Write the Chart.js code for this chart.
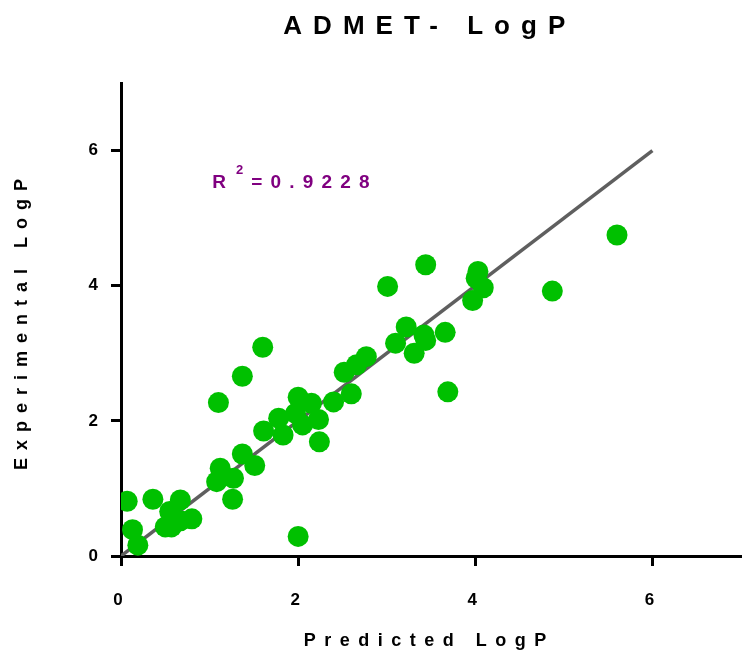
<!DOCTYPE html>
<html>
<head>
<meta charset="utf-8">
<script src="https://cdn.jsdelivr.net/npm/chart.js@4.4.1/dist/chart.umd.min.js"></script>
<style>
html,body{margin:0;padding:0;background:#fff;}
#wrap{width:742px;height:651px;}
</style>
</head>
<body>
<div id="wrap"><canvas id="c" width="742" height="651"></canvas></div>
<script>
// ---- text ----
const chartTitle = "ADMET- LogP";
const xAxisTitle = "Predicted LogP";
const yAxisTitle = "Experimental LogP";
const r2Main = "R";
const r2Sup = "2";
const r2Value = "=0.9228";

// ---- data ----
const predicted = [0.07, 0.13, 0.19, 0.36, 0.50, 0.57, 0.55, 0.67, 0.67, 0.80,
  1.08, 1.10, 1.12, 1.26, 1.27, 1.37, 1.37, 1.51, 1.60, 1.61,
  1.78, 1.83, 1.97, 2.00, 2.00, 2.05, 2.15, 2.23, 2.24, 2.40,
  2.52, 2.60, 2.66, 2.77, 3.01, 3.10, 3.22, 3.31, 3.42, 3.44, 3.44,
  3.66, 3.69, 3.97, 4.01, 4.03, 4.09, 4.87, 5.60];
const experimental = [0.81, 0.39, 0.16, 0.84, 0.43, 0.43, 0.66, 0.83, 0.52, 0.55,
  1.10, 2.27, 1.30, 0.84, 1.15, 1.51, 2.66, 1.34, 3.09, 1.85,
  2.04, 1.79, 2.11, 2.35, 0.29, 1.94, 2.26, 2.02, 1.69, 2.28,
  2.72, 2.40, 2.83, 2.95, 3.99, 3.15, 3.39, 3.00, 3.27, 3.19, 4.31,
  3.31, 2.43, 3.78, 4.11, 4.21, 3.97, 3.92, 4.75];
const fitX = [0, 6];
const fitY = [0, 6];
const xTicks = [0, 2, 4, 6];
const yTicks = [0, 2, 4, 6];
const xRange = [0, 7];
const yRange = [0, 7];
const r2Anchor = [1.03, 5.44];

// ---- styling ----
const FAMILY = "'Liberation Sans', Arial, Helvetica, sans-serif";
const GREEN = 'rgb(0,192,0)';
const PURPLE = '#800080';

function textWidth(ctx, text, spacing) {
  let w = 0;
  for (const ch of text) w += ctx.measureText(ch).width;
  return w + spacing * (text.length - 1);
}
function drawSpaced(ctx, text, x, y, font, spacing, align, rot, color) {
  ctx.save();
  ctx.font = font;
  ctx.fillStyle = color || '#000';
  ctx.textAlign = 'left';
  ctx.textBaseline = 'alphabetic';
  const hasLS = ('letterSpacing' in ctx);
  if (hasLS) ctx.letterSpacing = '0px';
  const w = textWidth(ctx, text, hasLS ? spacing : 0);
  if (hasLS) ctx.letterSpacing = spacing + 'px';
  ctx.translate(x, y);
  if (rot) ctx.rotate(rot);
  const dx = align === 'center' ? -w / 2 : 0;
  ctx.fillText(text, dx, 0);
  ctx.restore();
  return w;
}

const textPlugin = {
  id: 'textPlugin',
  afterDraw(chart) {
    const ctx = chart.ctx;
    const a = chart.chartArea;
    const xs = chart.scales.x, ys = chart.scales.y;
    // chart title
    drawSpaced(ctx, chartTitle, (a.left + a.right) / 2 - 6, 34, 'bold 26px ' + FAMILY, 11, 'center');
    // x axis title
    drawSpaced(ctx, xAxisTitle, (a.left + a.right) / 2 - 6, 646, 'bold 18px ' + FAMILY, 8.5, 'center');
    // y axis title
    drawSpaced(ctx, yAxisTitle, 27, (a.top + a.bottom) / 2 + 5, 'bold 18px ' + FAMILY, 8.0, 'center', -Math.PI / 2);
    // R^2 annotation
    const px = xs.getPixelForValue(r2Anchor[0]);
    const py = ys.getPixelForValue(r2Anchor[1]);
    const wR = drawSpaced(ctx, r2Main, px, py, 'bold 19px ' + FAMILY, 0, 'left', 0, PURPLE);
    drawSpaced(ctx, r2Sup, px + wR + 10, py - 14, 'bold 13px ' + FAMILY, 0, 'left', 0, PURPLE);
    drawSpaced(ctx, r2Value, px + 39, py, 'bold 19px ' + FAMILY, 8.2, 'left', 0, PURPLE);
  }
};

const scatterData = predicted.map((x, i) => ({ x: x, y: experimental[i] }));
const fitData = fitX.map((x, i) => ({ x: x, y: fitY[i] }));

new Chart(document.getElementById('c'), {
  type: 'scatter',
  data: {
    datasets: [
      {
        label: 'Compounds',
        data: scatterData,
        backgroundColor: GREEN,
        borderWidth: 0,
        pointRadius: 10.5,
        pointHoverRadius: 10.5,
        order: 0
      },
      {
        type: 'line',
        label: 'Fit',
        data: fitData,
        borderColor: '#5f5f5f',
        borderWidth: 3.5,
        pointRadius: 0,
        fill: false,
        order: 1
      }
    ]
  },
  options: {
    responsive: false,
    animation: false,
    devicePixelRatio: 1,
    layout: { autoPadding: false, padding: { top: 83, right: 1, bottom: 0, left: 0 } },
    plugins: {
      legend: { display: false },
      title: { display: false },
      tooltip: { enabled: false }
    },
    events: [],
    scales: {
      x: {
        type: 'linear',
        min: xRange[0], max: xRange[1],
        afterBuildTicks: s => { s.ticks = xTicks.map(v => ({ value: v })); },
        afterFit: s => { s.height = 95; s.paddingLeft = 0; s.paddingRight = 0; },
        grid: { display: true, drawOnChartArea: false, drawTicks: true, tickLength: 10, tickWidth: 3, tickColor: '#000' },
        border: { display: true, color: '#000', width: 3 },
        ticks: { color: '#000', font: { family: FAMILY, size: 17, weight: 'bold' }, padding: 24, maxRotation: 0, labelOffset: -3 }
      },
      y: {
        type: 'linear',
        min: yRange[0], max: yRange[1],
        afterBuildTicks: s => { s.ticks = yTicks.map(v => ({ value: v })); },
        afterFit: s => { s.width = 121; s.paddingTop = 0; s.paddingBottom = 0; },
        grid: { display: true, drawOnChartArea: false, drawTicks: true, tickLength: 10, tickWidth: 3, tickColor: '#000' },
        border: { display: true, color: '#000', width: 3 },
        ticks: { color: '#000', font: { family: FAMILY, size: 17, weight: 'bold' }, padding: 13 }
      }
    }
  },
  plugins: [textPlugin]
});
</script>
</body>
</html>
